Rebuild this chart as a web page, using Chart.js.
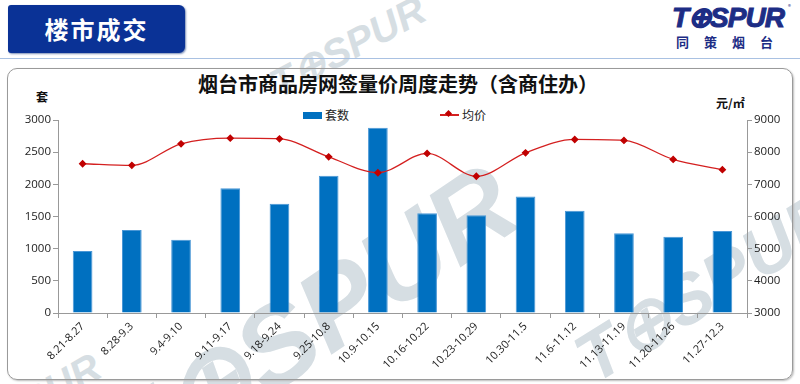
<!DOCTYPE html>
<html><head><meta charset="utf-8">
<script src="https://cdn.jsdelivr.net/npm/chart.js@4/dist/chart.umd.min.js"></script>
<style>
html,body{margin:0;padding:0;width:800px;height:384px;overflow:hidden;background:#fff;font-family:"Noto Sans CJK SC","Noto Sans",sans-serif;}
.abs{position:absolute;}
#hdr{left:8px;top:5px;width:177px;height:48px;background:#0a3296;border-radius:3px 6px 6px 3px;color:#fff;font-weight:bold;font-size:24px;line-height:48px;text-align:center;letter-spacing:2px;box-shadow:1px 1px 2px #7a8fb8;}
#hline{left:0;top:58px;width:800px;height:1px;background:#a9c1e2;}
#logo{left:672px;top:1px;font-family:"Liberation Sans",Arial,sans-serif;font-weight:900;font-style:italic;font-size:28px;color:#1d2d85;letter-spacing:-1px;-webkit-text-stroke:1px #1d2d85;}
#logo2{left:676px;top:32px;font-weight:bold;font-size:13px;color:#1d2d85;letter-spacing:15px;}
#reg{left:788px;top:2px;font-size:6px;color:#1d2d85;}
#box{left:7px;top:68px;width:784px;height:310px;border:1px solid #9a9a9a;border-radius:10px;box-shadow:1px 1px 2px #bbb;}
.wm{font-family:"Liberation Sans",Arial,sans-serif;font-weight:900;font-style:italic;color:#d6dee3;white-space:nowrap;transform-origin:0 0;}
#title{left:0;top:69px;width:796px;text-align:center;font-size:20px;font-weight:bold;color:#111;}
.lg{font-size:12px;color:#222;}
#canvas{position:absolute;left:0;top:0;}
</style></head>
<body>
<div class="abs wm" style="left:75px;top:402px;font-size:112px;transform:rotate(-34deg);">T&#x2295;SPUR</div>
<div class="abs wm" style="left:560px;top:330px;font-size:70px;transform:rotate(-32deg);">T&#x2295;SPUR</div>
<div class="abs wm" style="left:262px;top:66px;font-size:40px;transform:rotate(-28deg);">T&#x2295;SPUR</div>
<div class="abs wm" style="left:-10px;top:400px;font-size:40px;transform:rotate(-30deg);">SPUR</div>
<div id="hdr" class="abs">楼市成交</div>
<div id="hline" class="abs"></div>
<div id="logo" class="abs">T&#x2295;SPUR</div>
<div id="reg" class="abs">®</div>
<div id="logo2" class="abs">同策烟台</div>
<div id="box" class="abs"></div>
<div id="title" class="abs">烟台市商品房网签量价周度走势（含商住办）</div>
<div class="abs lg" style="left:303px;top:112px;width:19px;height:7px;background:#0070c0;"></div>
<div class="abs lg" style="left:325px;top:106px;">套数</div>
<div class="abs" style="left:440px;top:114px;width:19px;height:1.5px;background:#d42020;"></div>
<div class="abs" style="left:446px;top:111px;width:5px;height:5px;background:#c00000;transform:rotate(45deg);"></div>
<div class="abs lg" style="left:462px;top:106px;">均价</div>
<div class="abs" style="left:36px;top:88px;font-size:12px;font-weight:bold;color:#111;">套</div>
<div class="abs" style="left:716px;top:94px;font-size:12px;font-weight:bold;color:#111;">元/㎡</div>
<canvas id="canvas" width="800" height="384"></canvas>
<script>
const categories = ["8.21-8.27","8.28-9.3","9.4-9.10","9.11-9.17","9.18-9.24","9.25-10.8","10.9-10.15","10.16-10.22","10.23-10.29","10.30-11.5","11.6-11.12","11.13-11.19","11.20-11.26","11.27-12.3"];
const units = [965,1290,1140,1940,1700,2135,2880,1550,1520,1810,1590,1240,1185,1275];
const prices = [7640,7590,8260,8435,8415,7855,7360,7960,7250,7980,8395,8365,7775,7455];
const unitsLabel = "套数";
const priceLabel = "均价";

const tickFont = {family:"'Open Sans','Noto Sans',sans-serif", size:11.5};
const plain = (v)=>String(v);
new Chart(document.getElementById('canvas'), {
  data: {
    labels: categories,
    datasets: [
      {type:'line', label:priceLabel, data:prices, yAxisID:'y1', order:0,
       borderColor:'#d42020', borderWidth:1.3, tension:0.4, cubicInterpolationMode:'monotone',
       pointStyle:'rectRot', pointRadius:3, pointBackgroundColor:'#c00000', pointBorderColor:'#c00000'},
      {type:'bar', label:unitsLabel, data:units, yAxisID:'y', order:1,
       backgroundColor:'#0070c0', borderColor:'#4a97d6', borderWidth:1,
       barPercentage:0.4, categoryPercentage:1.0}
    ]
  },
  options: {
    responsive:false, animation:false, devicePixelRatio:1,
    layout:{padding:{top:120,left:0,right:0,bottom:0}},
    plugins:{legend:{display:false}, title:{display:false}, tooltip:{enabled:false}},
    scales:{
      x:{
        grid:{display:true, drawOnChartArea:false, drawTicks:true, tickLength:5, color:'#999', offset:true},
        border:{color:'#999'},
        ticks:{font:{family:tickFont.family,size:11}, color:'#222', minRotation:45, maxRotation:45, autoSkip:false, padding:2},
        afterFit:(s)=>{s.height=71;}
      },
      y:{
        position:'left', min:0, max:3000,
        grid:{drawOnChartArea:false, tickLength:5, color:'#999'},
        border:{color:'#999'},
        ticks:{stepSize:500, font:tickFont, color:'#222', padding:2, callback:plain},
        afterFit:(s)=>{s.width=58;}
      },
      y1:{
        position:'right', min:3000, max:9000,
        grid:{drawOnChartArea:false, tickLength:5, color:'#999'},
        border:{color:'#999'},
        ticks:{stepSize:1000, font:tickFont, color:'#222', padding:2, callback:plain},
        afterFit:(s)=>{s.width=53;}
      }
    }
  }
});
</script>
</body></html>
